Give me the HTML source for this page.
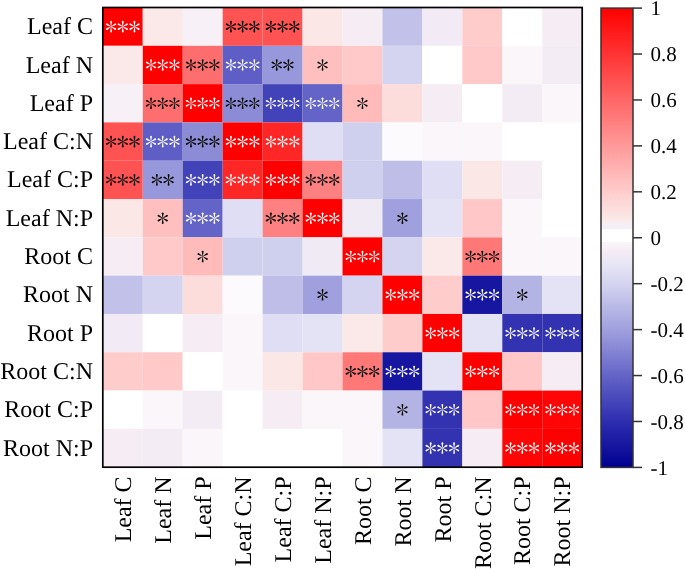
<!DOCTYPE html><html><head><meta charset="utf-8"><style>html,body{margin:0;padding:0;background:#fff;}svg{display:block;will-change:transform;}text{font-family:"Liberation Serif",serif;text-rendering:geometricPrecision;}</style></head><body>
<svg width="685" height="569" viewBox="0 0 685 569">
<defs><path id="arm" d="M-0.12,0 L-0.9,-4.9 A0.9,0.9 0 0 1 0.9,-4.9 L0.12,0Z"/><g id="st"><use href="#arm" transform="rotate(0)"/><use href="#arm" transform="rotate(60)"/><use href="#arm" transform="rotate(120)"/><use href="#arm" transform="rotate(180)"/><use href="#arm" transform="rotate(240)"/><use href="#arm" transform="rotate(300)"/></g></defs>
<rect x="102.80" y="7.50" width="39.95" height="38.31" fill="#ff0000"/>
<rect x="142.75" y="7.50" width="39.95" height="38.31" fill="#fae9e8"/>
<rect x="182.70" y="7.50" width="39.95" height="38.31" fill="#f7f0f6"/>
<rect x="222.65" y="7.50" width="39.95" height="38.31" fill="#ff5252"/>
<rect x="262.60" y="7.50" width="39.95" height="38.31" fill="#ff5252"/>
<rect x="302.55" y="7.50" width="39.95" height="38.31" fill="#fae7e6"/>
<rect x="342.50" y="7.50" width="39.95" height="38.31" fill="#f6edf4"/>
<rect x="382.45" y="7.50" width="39.95" height="38.31" fill="#c1c1e9"/>
<rect x="422.40" y="7.50" width="39.95" height="38.31" fill="#f2ebf5"/>
<rect x="462.35" y="7.50" width="39.95" height="38.31" fill="#ffcccc"/>
<rect x="502.30" y="7.50" width="39.95" height="38.31" fill="#ffffff"/>
<rect x="542.25" y="7.50" width="39.95" height="38.31" fill="#f6edf4"/>
<rect x="102.80" y="45.81" width="39.95" height="38.31" fill="#fae9e8"/>
<rect x="142.75" y="45.81" width="39.95" height="38.31" fill="#ff0000"/>
<rect x="182.70" y="45.81" width="39.95" height="38.31" fill="#ff6e6e"/>
<rect x="222.65" y="45.81" width="39.95" height="38.31" fill="#5e5ec6"/>
<rect x="262.60" y="45.81" width="39.95" height="38.31" fill="#9797db"/>
<rect x="302.55" y="45.81" width="39.95" height="38.31" fill="#ffbfbf"/>
<rect x="342.50" y="45.81" width="39.95" height="38.31" fill="#ffc9c9"/>
<rect x="382.45" y="45.81" width="39.95" height="38.31" fill="#d4d4f0"/>
<rect x="422.40" y="45.81" width="39.95" height="38.31" fill="#ffffff"/>
<rect x="462.35" y="45.81" width="39.95" height="38.31" fill="#ffc9c9"/>
<rect x="502.30" y="45.81" width="39.95" height="38.31" fill="#faf6fa"/>
<rect x="542.25" y="45.81" width="39.95" height="38.31" fill="#f4ecf4"/>
<rect x="102.80" y="84.12" width="39.95" height="38.31" fill="#f7f0f6"/>
<rect x="142.75" y="84.12" width="39.95" height="38.31" fill="#ff6e6e"/>
<rect x="182.70" y="84.12" width="39.95" height="38.31" fill="#ff0000"/>
<rect x="222.65" y="84.12" width="39.95" height="38.31" fill="#8b8bd6"/>
<rect x="262.60" y="84.12" width="39.95" height="38.31" fill="#4343b9"/>
<rect x="302.55" y="84.12" width="39.95" height="38.31" fill="#6464c8"/>
<rect x="342.50" y="84.12" width="39.95" height="38.31" fill="#ffbaba"/>
<rect x="382.45" y="84.12" width="39.95" height="38.31" fill="#fcdddc"/>
<rect x="422.40" y="84.12" width="39.95" height="38.31" fill="#f6edf4"/>
<rect x="462.35" y="84.12" width="39.95" height="38.31" fill="#ffffff"/>
<rect x="502.30" y="84.12" width="39.95" height="38.31" fill="#f4ecf4"/>
<rect x="542.25" y="84.12" width="39.95" height="38.31" fill="#faf6fa"/>
<rect x="102.80" y="122.42" width="39.95" height="38.31" fill="#ff5252"/>
<rect x="142.75" y="122.42" width="39.95" height="38.31" fill="#5e5ec6"/>
<rect x="182.70" y="122.42" width="39.95" height="38.31" fill="#8b8bd6"/>
<rect x="222.65" y="122.42" width="39.95" height="38.31" fill="#ff0000"/>
<rect x="262.60" y="122.42" width="39.95" height="38.31" fill="#ff2626"/>
<rect x="302.55" y="122.42" width="39.95" height="38.31" fill="#dfdef4"/>
<rect x="342.50" y="122.42" width="39.95" height="38.31" fill="#cfcfee"/>
<rect x="382.45" y="122.42" width="39.95" height="38.31" fill="#fcfafc"/>
<rect x="422.40" y="122.42" width="39.95" height="38.31" fill="#faf6fa"/>
<rect x="462.35" y="122.42" width="39.95" height="38.31" fill="#faf6fa"/>
<rect x="502.30" y="122.42" width="39.95" height="38.31" fill="#ffffff"/>
<rect x="542.25" y="122.42" width="39.95" height="38.31" fill="#ffffff"/>
<rect x="102.80" y="160.73" width="39.95" height="38.31" fill="#ff5252"/>
<rect x="142.75" y="160.73" width="39.95" height="38.31" fill="#9797db"/>
<rect x="182.70" y="160.73" width="39.95" height="38.31" fill="#4343b9"/>
<rect x="222.65" y="160.73" width="39.95" height="38.31" fill="#ff2626"/>
<rect x="262.60" y="160.73" width="39.95" height="38.31" fill="#ff0000"/>
<rect x="302.55" y="160.73" width="39.95" height="38.31" fill="#ff8080"/>
<rect x="342.50" y="160.73" width="39.95" height="38.31" fill="#cfcfee"/>
<rect x="382.45" y="160.73" width="39.95" height="38.31" fill="#bebee8"/>
<rect x="422.40" y="160.73" width="39.95" height="38.31" fill="#dfdef4"/>
<rect x="462.35" y="160.73" width="39.95" height="38.31" fill="#fae7e6"/>
<rect x="502.30" y="160.73" width="39.95" height="38.31" fill="#f6edf4"/>
<rect x="542.25" y="160.73" width="39.95" height="38.31" fill="#ffffff"/>
<rect x="102.80" y="199.04" width="39.95" height="38.31" fill="#fae7e6"/>
<rect x="142.75" y="199.04" width="39.95" height="38.31" fill="#ffbfbf"/>
<rect x="182.70" y="199.04" width="39.95" height="38.31" fill="#6464c8"/>
<rect x="222.65" y="199.04" width="39.95" height="38.31" fill="#dfdef4"/>
<rect x="262.60" y="199.04" width="39.95" height="38.31" fill="#ff8080"/>
<rect x="302.55" y="199.04" width="39.95" height="38.31" fill="#ff0000"/>
<rect x="342.50" y="199.04" width="39.95" height="38.31" fill="#f0eaf5"/>
<rect x="382.45" y="199.04" width="39.95" height="38.31" fill="#a0a0de"/>
<rect x="422.40" y="199.04" width="39.95" height="38.31" fill="#e4e2f5"/>
<rect x="462.35" y="199.04" width="39.95" height="38.31" fill="#ffc7c7"/>
<rect x="502.30" y="199.04" width="39.95" height="38.31" fill="#faf6fa"/>
<rect x="542.25" y="199.04" width="39.95" height="38.31" fill="#ffffff"/>
<rect x="102.80" y="237.35" width="39.95" height="38.31" fill="#f6edf4"/>
<rect x="142.75" y="237.35" width="39.95" height="38.31" fill="#ffc9c9"/>
<rect x="182.70" y="237.35" width="39.95" height="38.31" fill="#ffbaba"/>
<rect x="222.65" y="237.35" width="39.95" height="38.31" fill="#cfcfee"/>
<rect x="262.60" y="237.35" width="39.95" height="38.31" fill="#cfcfee"/>
<rect x="302.55" y="237.35" width="39.95" height="38.31" fill="#f0eaf5"/>
<rect x="342.50" y="237.35" width="39.95" height="38.31" fill="#ff0000"/>
<rect x="382.45" y="237.35" width="39.95" height="38.31" fill="#d4d4f0"/>
<rect x="422.40" y="237.35" width="39.95" height="38.31" fill="#fae9e8"/>
<rect x="462.35" y="237.35" width="39.95" height="38.31" fill="#ff7878"/>
<rect x="502.30" y="237.35" width="39.95" height="38.31" fill="#faf6fa"/>
<rect x="542.25" y="237.35" width="39.95" height="38.31" fill="#faf6fa"/>
<rect x="102.80" y="275.66" width="39.95" height="38.31" fill="#c1c1e9"/>
<rect x="142.75" y="275.66" width="39.95" height="38.31" fill="#d4d4f0"/>
<rect x="182.70" y="275.66" width="39.95" height="38.31" fill="#fcdddc"/>
<rect x="222.65" y="275.66" width="39.95" height="38.31" fill="#fcfafc"/>
<rect x="262.60" y="275.66" width="39.95" height="38.31" fill="#bebee8"/>
<rect x="302.55" y="275.66" width="39.95" height="38.31" fill="#a0a0de"/>
<rect x="342.50" y="275.66" width="39.95" height="38.31" fill="#d4d4f0"/>
<rect x="382.45" y="275.66" width="39.95" height="38.31" fill="#ff0000"/>
<rect x="422.40" y="275.66" width="39.95" height="38.31" fill="#ffcccc"/>
<rect x="462.35" y="275.66" width="39.95" height="38.31" fill="#1616a0"/>
<rect x="502.30" y="275.66" width="39.95" height="38.31" fill="#b4b4e4"/>
<rect x="542.25" y="275.66" width="39.95" height="38.31" fill="#e4e2f5"/>
<rect x="102.80" y="313.97" width="39.95" height="38.31" fill="#f2ebf5"/>
<rect x="142.75" y="313.97" width="39.95" height="38.31" fill="#ffffff"/>
<rect x="182.70" y="313.97" width="39.95" height="38.31" fill="#f6edf4"/>
<rect x="222.65" y="313.97" width="39.95" height="38.31" fill="#faf6fa"/>
<rect x="262.60" y="313.97" width="39.95" height="38.31" fill="#dfdef4"/>
<rect x="302.55" y="313.97" width="39.95" height="38.31" fill="#e4e2f5"/>
<rect x="342.50" y="313.97" width="39.95" height="38.31" fill="#fae9e8"/>
<rect x="382.45" y="313.97" width="39.95" height="38.31" fill="#ffcccc"/>
<rect x="422.40" y="313.97" width="39.95" height="38.31" fill="#ff0000"/>
<rect x="462.35" y="313.97" width="39.95" height="38.31" fill="#e4e2f5"/>
<rect x="502.30" y="313.97" width="39.95" height="38.31" fill="#3333b2"/>
<rect x="542.25" y="313.97" width="39.95" height="38.31" fill="#3333b2"/>
<rect x="102.80" y="352.27" width="39.95" height="38.31" fill="#ffcccc"/>
<rect x="142.75" y="352.27" width="39.95" height="38.31" fill="#ffc9c9"/>
<rect x="182.70" y="352.27" width="39.95" height="38.31" fill="#ffffff"/>
<rect x="222.65" y="352.27" width="39.95" height="38.31" fill="#faf6fa"/>
<rect x="262.60" y="352.27" width="39.95" height="38.31" fill="#fae7e6"/>
<rect x="302.55" y="352.27" width="39.95" height="38.31" fill="#ffc7c7"/>
<rect x="342.50" y="352.27" width="39.95" height="38.31" fill="#ff7878"/>
<rect x="382.45" y="352.27" width="39.95" height="38.31" fill="#1616a0"/>
<rect x="422.40" y="352.27" width="39.95" height="38.31" fill="#e4e2f5"/>
<rect x="462.35" y="352.27" width="39.95" height="38.31" fill="#ff0000"/>
<rect x="502.30" y="352.27" width="39.95" height="38.31" fill="#ffc7c7"/>
<rect x="542.25" y="352.27" width="39.95" height="38.31" fill="#f6edf4"/>
<rect x="102.80" y="390.58" width="39.95" height="38.31" fill="#ffffff"/>
<rect x="142.75" y="390.58" width="39.95" height="38.31" fill="#faf6fa"/>
<rect x="182.70" y="390.58" width="39.95" height="38.31" fill="#f4ecf4"/>
<rect x="222.65" y="390.58" width="39.95" height="38.31" fill="#ffffff"/>
<rect x="262.60" y="390.58" width="39.95" height="38.31" fill="#f6edf4"/>
<rect x="302.55" y="390.58" width="39.95" height="38.31" fill="#faf6fa"/>
<rect x="342.50" y="390.58" width="39.95" height="38.31" fill="#faf6fa"/>
<rect x="382.45" y="390.58" width="39.95" height="38.31" fill="#b4b4e4"/>
<rect x="422.40" y="390.58" width="39.95" height="38.31" fill="#3333b2"/>
<rect x="462.35" y="390.58" width="39.95" height="38.31" fill="#ffc7c7"/>
<rect x="502.30" y="390.58" width="39.95" height="38.31" fill="#ff0000"/>
<rect x="542.25" y="390.58" width="39.95" height="38.31" fill="#ff0505"/>
<rect x="102.80" y="428.89" width="39.95" height="38.31" fill="#f6edf4"/>
<rect x="142.75" y="428.89" width="39.95" height="38.31" fill="#f4ecf4"/>
<rect x="182.70" y="428.89" width="39.95" height="38.31" fill="#faf6fa"/>
<rect x="222.65" y="428.89" width="39.95" height="38.31" fill="#ffffff"/>
<rect x="262.60" y="428.89" width="39.95" height="38.31" fill="#ffffff"/>
<rect x="302.55" y="428.89" width="39.95" height="38.31" fill="#ffffff"/>
<rect x="342.50" y="428.89" width="39.95" height="38.31" fill="#faf6fa"/>
<rect x="382.45" y="428.89" width="39.95" height="38.31" fill="#e4e2f5"/>
<rect x="422.40" y="428.89" width="39.95" height="38.31" fill="#3333b2"/>
<rect x="462.35" y="428.89" width="39.95" height="38.31" fill="#f6edf4"/>
<rect x="502.30" y="428.89" width="39.95" height="38.31" fill="#ff0505"/>
<rect x="542.25" y="428.89" width="39.95" height="38.31" fill="#ff0000"/>
<use href="#st" x="111.08" y="26.65" fill="#fff"/>
<use href="#st" x="122.78" y="26.65" fill="#fff"/>
<use href="#st" x="134.47" y="26.65" fill="#fff"/>
<use href="#st" x="230.93" y="26.65" fill="#000"/>
<use href="#st" x="242.62" y="26.65" fill="#000"/>
<use href="#st" x="254.32" y="26.65" fill="#000"/>
<use href="#st" x="270.88" y="26.65" fill="#000"/>
<use href="#st" x="282.57" y="26.65" fill="#000"/>
<use href="#st" x="294.27" y="26.65" fill="#000"/>
<use href="#st" x="151.03" y="64.96" fill="#fff"/>
<use href="#st" x="162.72" y="64.96" fill="#fff"/>
<use href="#st" x="174.42" y="64.96" fill="#fff"/>
<use href="#st" x="190.98" y="64.96" fill="#000"/>
<use href="#st" x="202.68" y="64.96" fill="#000"/>
<use href="#st" x="214.38" y="64.96" fill="#000"/>
<use href="#st" x="230.93" y="64.96" fill="#fff"/>
<use href="#st" x="242.62" y="64.96" fill="#fff"/>
<use href="#st" x="254.32" y="64.96" fill="#fff"/>
<use href="#st" x="276.72" y="64.96" fill="#000"/>
<use href="#st" x="288.43" y="64.96" fill="#000"/>
<use href="#st" x="322.53" y="64.96" fill="#000"/>
<use href="#st" x="151.03" y="103.27" fill="#000"/>
<use href="#st" x="162.72" y="103.27" fill="#000"/>
<use href="#st" x="174.42" y="103.27" fill="#000"/>
<use href="#st" x="190.98" y="103.27" fill="#fff"/>
<use href="#st" x="202.68" y="103.27" fill="#fff"/>
<use href="#st" x="214.38" y="103.27" fill="#fff"/>
<use href="#st" x="230.93" y="103.27" fill="#000"/>
<use href="#st" x="242.62" y="103.27" fill="#000"/>
<use href="#st" x="254.32" y="103.27" fill="#000"/>
<use href="#st" x="270.88" y="103.27" fill="#fff"/>
<use href="#st" x="282.57" y="103.27" fill="#fff"/>
<use href="#st" x="294.27" y="103.27" fill="#fff"/>
<use href="#st" x="310.83" y="103.27" fill="#fff"/>
<use href="#st" x="322.53" y="103.27" fill="#fff"/>
<use href="#st" x="334.23" y="103.27" fill="#fff"/>
<use href="#st" x="362.48" y="103.27" fill="#000"/>
<use href="#st" x="111.08" y="141.58" fill="#000"/>
<use href="#st" x="122.78" y="141.58" fill="#000"/>
<use href="#st" x="134.47" y="141.58" fill="#000"/>
<use href="#st" x="151.03" y="141.58" fill="#fff"/>
<use href="#st" x="162.72" y="141.58" fill="#fff"/>
<use href="#st" x="174.42" y="141.58" fill="#fff"/>
<use href="#st" x="190.98" y="141.58" fill="#000"/>
<use href="#st" x="202.68" y="141.58" fill="#000"/>
<use href="#st" x="214.38" y="141.58" fill="#000"/>
<use href="#st" x="230.93" y="141.58" fill="#fff"/>
<use href="#st" x="242.62" y="141.58" fill="#fff"/>
<use href="#st" x="254.32" y="141.58" fill="#fff"/>
<use href="#st" x="270.88" y="141.58" fill="#fff"/>
<use href="#st" x="282.57" y="141.58" fill="#fff"/>
<use href="#st" x="294.27" y="141.58" fill="#fff"/>
<use href="#st" x="111.08" y="179.89" fill="#000"/>
<use href="#st" x="122.78" y="179.89" fill="#000"/>
<use href="#st" x="134.47" y="179.89" fill="#000"/>
<use href="#st" x="156.88" y="179.89" fill="#000"/>
<use href="#st" x="168.57" y="179.89" fill="#000"/>
<use href="#st" x="190.98" y="179.89" fill="#fff"/>
<use href="#st" x="202.68" y="179.89" fill="#fff"/>
<use href="#st" x="214.38" y="179.89" fill="#fff"/>
<use href="#st" x="230.93" y="179.89" fill="#fff"/>
<use href="#st" x="242.62" y="179.89" fill="#fff"/>
<use href="#st" x="254.32" y="179.89" fill="#fff"/>
<use href="#st" x="270.88" y="179.89" fill="#fff"/>
<use href="#st" x="282.57" y="179.89" fill="#fff"/>
<use href="#st" x="294.27" y="179.89" fill="#fff"/>
<use href="#st" x="310.83" y="179.89" fill="#000"/>
<use href="#st" x="322.53" y="179.89" fill="#000"/>
<use href="#st" x="334.23" y="179.89" fill="#000"/>
<use href="#st" x="162.72" y="218.20" fill="#000"/>
<use href="#st" x="190.98" y="218.20" fill="#fff"/>
<use href="#st" x="202.68" y="218.20" fill="#fff"/>
<use href="#st" x="214.38" y="218.20" fill="#fff"/>
<use href="#st" x="270.88" y="218.20" fill="#000"/>
<use href="#st" x="282.57" y="218.20" fill="#000"/>
<use href="#st" x="294.27" y="218.20" fill="#000"/>
<use href="#st" x="310.83" y="218.20" fill="#fff"/>
<use href="#st" x="322.53" y="218.20" fill="#fff"/>
<use href="#st" x="334.23" y="218.20" fill="#fff"/>
<use href="#st" x="402.43" y="218.20" fill="#000"/>
<use href="#st" x="202.68" y="256.50" fill="#000"/>
<use href="#st" x="350.78" y="256.50" fill="#fff"/>
<use href="#st" x="362.48" y="256.50" fill="#fff"/>
<use href="#st" x="374.18" y="256.50" fill="#fff"/>
<use href="#st" x="470.63" y="256.50" fill="#000"/>
<use href="#st" x="482.33" y="256.50" fill="#000"/>
<use href="#st" x="494.03" y="256.50" fill="#000"/>
<use href="#st" x="322.53" y="294.81" fill="#000"/>
<use href="#st" x="390.73" y="294.81" fill="#fff"/>
<use href="#st" x="402.43" y="294.81" fill="#fff"/>
<use href="#st" x="414.12" y="294.81" fill="#fff"/>
<use href="#st" x="470.63" y="294.81" fill="#fff"/>
<use href="#st" x="482.33" y="294.81" fill="#fff"/>
<use href="#st" x="494.03" y="294.81" fill="#fff"/>
<use href="#st" x="522.27" y="294.81" fill="#000"/>
<use href="#st" x="430.68" y="333.12" fill="#fff"/>
<use href="#st" x="442.38" y="333.12" fill="#fff"/>
<use href="#st" x="454.08" y="333.12" fill="#fff"/>
<use href="#st" x="510.57" y="333.12" fill="#fff"/>
<use href="#st" x="522.27" y="333.12" fill="#fff"/>
<use href="#st" x="533.98" y="333.12" fill="#fff"/>
<use href="#st" x="550.52" y="333.12" fill="#fff"/>
<use href="#st" x="562.23" y="333.12" fill="#fff"/>
<use href="#st" x="573.93" y="333.12" fill="#fff"/>
<use href="#st" x="350.78" y="371.43" fill="#000"/>
<use href="#st" x="362.48" y="371.43" fill="#000"/>
<use href="#st" x="374.18" y="371.43" fill="#000"/>
<use href="#st" x="390.73" y="371.43" fill="#fff"/>
<use href="#st" x="402.43" y="371.43" fill="#fff"/>
<use href="#st" x="414.12" y="371.43" fill="#fff"/>
<use href="#st" x="470.63" y="371.43" fill="#fff"/>
<use href="#st" x="482.33" y="371.43" fill="#fff"/>
<use href="#st" x="494.03" y="371.43" fill="#fff"/>
<use href="#st" x="402.43" y="409.74" fill="#000"/>
<use href="#st" x="430.68" y="409.74" fill="#fff"/>
<use href="#st" x="442.38" y="409.74" fill="#fff"/>
<use href="#st" x="454.08" y="409.74" fill="#fff"/>
<use href="#st" x="510.57" y="409.74" fill="#fff"/>
<use href="#st" x="522.27" y="409.74" fill="#fff"/>
<use href="#st" x="533.98" y="409.74" fill="#fff"/>
<use href="#st" x="550.52" y="409.74" fill="#fff"/>
<use href="#st" x="562.23" y="409.74" fill="#fff"/>
<use href="#st" x="573.93" y="409.74" fill="#fff"/>
<use href="#st" x="430.68" y="448.05" fill="#fff"/>
<use href="#st" x="442.38" y="448.05" fill="#fff"/>
<use href="#st" x="454.08" y="448.05" fill="#fff"/>
<use href="#st" x="510.57" y="448.05" fill="#fff"/>
<use href="#st" x="522.27" y="448.05" fill="#fff"/>
<use href="#st" x="533.98" y="448.05" fill="#fff"/>
<use href="#st" x="550.52" y="448.05" fill="#fff"/>
<use href="#st" x="562.23" y="448.05" fill="#fff"/>
<use href="#st" x="573.93" y="448.05" fill="#fff"/>
<rect x="102.80" y="7.50" width="479.40" height="459.70" fill="none" stroke="#000" stroke-width="1.7"/>
<text x="93" y="34.25" font-size="24" text-anchor="end">Leaf C</text>
<text x="93" y="72.56" font-size="24" text-anchor="end">Leaf N</text>
<text x="93" y="110.87" font-size="24" text-anchor="end">Leaf P</text>
<text x="93" y="149.18" font-size="24" text-anchor="end">Leaf C:N</text>
<text x="93" y="187.49" font-size="24" text-anchor="end">Leaf C:P</text>
<text x="93" y="225.80" font-size="24" text-anchor="end">Leaf N:P</text>
<text x="93" y="264.10" font-size="24" text-anchor="end">Root C</text>
<text x="93" y="302.41" font-size="24" text-anchor="end">Root N</text>
<text x="93" y="340.72" font-size="24" text-anchor="end">Root P</text>
<text x="93" y="379.03" font-size="24" text-anchor="end">Root C:N</text>
<text x="93" y="417.34" font-size="24" text-anchor="end">Root C:P</text>
<text x="93" y="455.65" font-size="24" text-anchor="end">Root N:P</text>
<text transform="translate(130.97,476.4) rotate(-90)" font-size="24" text-anchor="end">Leaf C</text>
<text transform="translate(170.92,476.4) rotate(-90)" font-size="24" text-anchor="end">Leaf N</text>
<text transform="translate(210.88,476.4) rotate(-90)" font-size="24" text-anchor="end">Leaf P</text>
<text transform="translate(250.82,476.4) rotate(-90)" font-size="24" text-anchor="end">Leaf C:N</text>
<text transform="translate(290.77,476.4) rotate(-90)" font-size="24" text-anchor="end">Leaf C:P</text>
<text transform="translate(330.73,476.4) rotate(-90)" font-size="24" text-anchor="end">Leaf N:P</text>
<text transform="translate(370.68,476.4) rotate(-90)" font-size="24" text-anchor="end">Root C</text>
<text transform="translate(410.62,476.4) rotate(-90)" font-size="24" text-anchor="end">Root N</text>
<text transform="translate(450.58,476.4) rotate(-90)" font-size="24" text-anchor="end">Root P</text>
<text transform="translate(490.53,476.4) rotate(-90)" font-size="24" text-anchor="end">Root C:N</text>
<text transform="translate(530.48,476.4) rotate(-90)" font-size="24" text-anchor="end">Root C:P</text>
<text transform="translate(570.43,476.4) rotate(-90)" font-size="24" text-anchor="end">Root N:P</text>
<defs><linearGradient id="cb" x1="0" y1="0" x2="0" y2="1"><stop offset="0.0000" stop-color="#ff0000"/><stop offset="0.0100" stop-color="#ff0505"/><stop offset="0.0200" stop-color="#ff0a0a"/><stop offset="0.0300" stop-color="#ff0f0f"/><stop offset="0.0400" stop-color="#ff1414"/><stop offset="0.0500" stop-color="#ff1a1a"/><stop offset="0.0600" stop-color="#ff1f1f"/><stop offset="0.0700" stop-color="#ff2424"/><stop offset="0.0800" stop-color="#ff2929"/><stop offset="0.0900" stop-color="#ff2e2e"/><stop offset="0.1000" stop-color="#ff3333"/><stop offset="0.1100" stop-color="#ff3838"/><stop offset="0.1200" stop-color="#ff3d3d"/><stop offset="0.1300" stop-color="#ff4242"/><stop offset="0.1400" stop-color="#ff4747"/><stop offset="0.1500" stop-color="#ff4d4d"/><stop offset="0.1600" stop-color="#ff5252"/><stop offset="0.1700" stop-color="#ff5757"/><stop offset="0.1800" stop-color="#ff5c5c"/><stop offset="0.1900" stop-color="#ff6161"/><stop offset="0.2000" stop-color="#ff6666"/><stop offset="0.2100" stop-color="#ff6b6b"/><stop offset="0.2200" stop-color="#ff7070"/><stop offset="0.2300" stop-color="#ff7575"/><stop offset="0.2400" stop-color="#ff7a7a"/><stop offset="0.2500" stop-color="#ff8080"/><stop offset="0.2600" stop-color="#ff8585"/><stop offset="0.2700" stop-color="#ff8a8a"/><stop offset="0.2800" stop-color="#ff8f8f"/><stop offset="0.2900" stop-color="#ff9494"/><stop offset="0.3000" stop-color="#ff9999"/><stop offset="0.3100" stop-color="#ff9e9e"/><stop offset="0.3200" stop-color="#ffa3a3"/><stop offset="0.3300" stop-color="#ffa8a8"/><stop offset="0.3400" stop-color="#ffadad"/><stop offset="0.3500" stop-color="#ffb2b2"/><stop offset="0.3600" stop-color="#ffb8b8"/><stop offset="0.3700" stop-color="#ffbdbd"/><stop offset="0.3800" stop-color="#ffc2c2"/><stop offset="0.3900" stop-color="#ffc7c7"/><stop offset="0.4000" stop-color="#ffcccc"/><stop offset="0.4100" stop-color="#fed1d1"/><stop offset="0.4200" stop-color="#fdd6d5"/><stop offset="0.4300" stop-color="#fcdada"/><stop offset="0.4400" stop-color="#fcdfdf"/><stop offset="0.4500" stop-color="#fbe4e3"/><stop offset="0.4600" stop-color="#fae9e8"/><stop offset="0.4675" stop-color="#fbedec"/><stop offset="0.4675" stop-color="#f4eef6"/><stop offset="0.4810" stop-color="#f4eef6"/><stop offset="0.4810" stop-color="#ffffff"/><stop offset="0.5090" stop-color="#ffffff"/><stop offset="0.5090" stop-color="#f7f1f7"/><stop offset="0.5100" stop-color="#faf6fa"/><stop offset="0.5200" stop-color="#f7f0f6"/><stop offset="0.5300" stop-color="#f4ecf4"/><stop offset="0.5400" stop-color="#f0eaf5"/><stop offset="0.5500" stop-color="#ebe7f5"/><stop offset="0.5600" stop-color="#e6e4f5"/><stop offset="0.5700" stop-color="#e2e0f4"/><stop offset="0.5800" stop-color="#dddcf3"/><stop offset="0.5900" stop-color="#d9d8f1"/><stop offset="0.6000" stop-color="#d4d4f0"/><stop offset="0.6100" stop-color="#cfcfee"/><stop offset="0.6200" stop-color="#c9c9ec"/><stop offset="0.6300" stop-color="#c4c4ea"/><stop offset="0.6400" stop-color="#bebee8"/><stop offset="0.6500" stop-color="#b9b9e6"/><stop offset="0.6600" stop-color="#b4b4e4"/><stop offset="0.6700" stop-color="#afafe3"/><stop offset="0.6800" stop-color="#aaaae1"/><stop offset="0.6900" stop-color="#a5a5e0"/><stop offset="0.7000" stop-color="#a0a0de"/><stop offset="0.7100" stop-color="#9a9adc"/><stop offset="0.7200" stop-color="#9494da"/><stop offset="0.7300" stop-color="#8e8ed7"/><stop offset="0.7400" stop-color="#8888d5"/><stop offset="0.7500" stop-color="#8282d3"/><stop offset="0.7600" stop-color="#7c7cd1"/><stop offset="0.7700" stop-color="#7676cf"/><stop offset="0.7800" stop-color="#7070cc"/><stop offset="0.7900" stop-color="#6a6aca"/><stop offset="0.8000" stop-color="#6464c8"/><stop offset="0.8100" stop-color="#5e5ec5"/><stop offset="0.8200" stop-color="#5959c3"/><stop offset="0.8300" stop-color="#5454c0"/><stop offset="0.8400" stop-color="#4e4ebe"/><stop offset="0.8500" stop-color="#4949bc"/><stop offset="0.8600" stop-color="#4343b9"/><stop offset="0.8700" stop-color="#3e3eb6"/><stop offset="0.8800" stop-color="#3838b4"/><stop offset="0.8900" stop-color="#3333b2"/><stop offset="0.9000" stop-color="#2d2daf"/><stop offset="0.9100" stop-color="#2828ac"/><stop offset="0.9200" stop-color="#2424a9"/><stop offset="0.9300" stop-color="#1f1fa6"/><stop offset="0.9400" stop-color="#1b1ba3"/><stop offset="0.9500" stop-color="#1717a0"/><stop offset="0.9600" stop-color="#12129d"/><stop offset="0.9700" stop-color="#0e0e9a"/><stop offset="0.9800" stop-color="#090997"/><stop offset="0.9900" stop-color="#050594"/><stop offset="1.0000" stop-color="#000091"/></linearGradient></defs>
<rect x="601.00" y="8.10" width="32.00" height="459.30" fill="url(#cb)" stroke="#333" stroke-width="1.5"/>
<line x1="633.00" y1="8.10" x2="642" y2="8.10" stroke="#333" stroke-width="1.5"/>
<text x="650.5" y="15.20" font-size="21">1</text>
<line x1="633.00" y1="54.03" x2="642" y2="54.03" stroke="#333" stroke-width="1.5"/>
<text x="650.5" y="61.13" font-size="21">0.8</text>
<line x1="633.00" y1="99.96" x2="642" y2="99.96" stroke="#333" stroke-width="1.5"/>
<text x="650.5" y="107.06" font-size="21">0.6</text>
<line x1="633.00" y1="145.89" x2="642" y2="145.89" stroke="#333" stroke-width="1.5"/>
<text x="650.5" y="152.99" font-size="21">0.4</text>
<line x1="633.00" y1="191.82" x2="642" y2="191.82" stroke="#333" stroke-width="1.5"/>
<text x="650.5" y="198.92" font-size="21">0.2</text>
<line x1="633.00" y1="237.75" x2="642" y2="237.75" stroke="#333" stroke-width="1.5"/>
<text x="650.5" y="244.85" font-size="21">0</text>
<line x1="633.00" y1="283.68" x2="642" y2="283.68" stroke="#333" stroke-width="1.5"/>
<text x="650.5" y="290.78" font-size="21">-0.2</text>
<line x1="633.00" y1="329.61" x2="642" y2="329.61" stroke="#333" stroke-width="1.5"/>
<text x="650.5" y="336.71" font-size="21">-0.4</text>
<line x1="633.00" y1="375.54" x2="642" y2="375.54" stroke="#333" stroke-width="1.5"/>
<text x="650.5" y="382.64" font-size="21">-0.6</text>
<line x1="633.00" y1="421.47" x2="642" y2="421.47" stroke="#333" stroke-width="1.5"/>
<text x="650.5" y="428.57" font-size="21">-0.8</text>
<line x1="633.00" y1="467.40" x2="642" y2="467.40" stroke="#333" stroke-width="1.5"/>
<text x="650.5" y="474.50" font-size="21">-1</text>
</svg></body></html>
